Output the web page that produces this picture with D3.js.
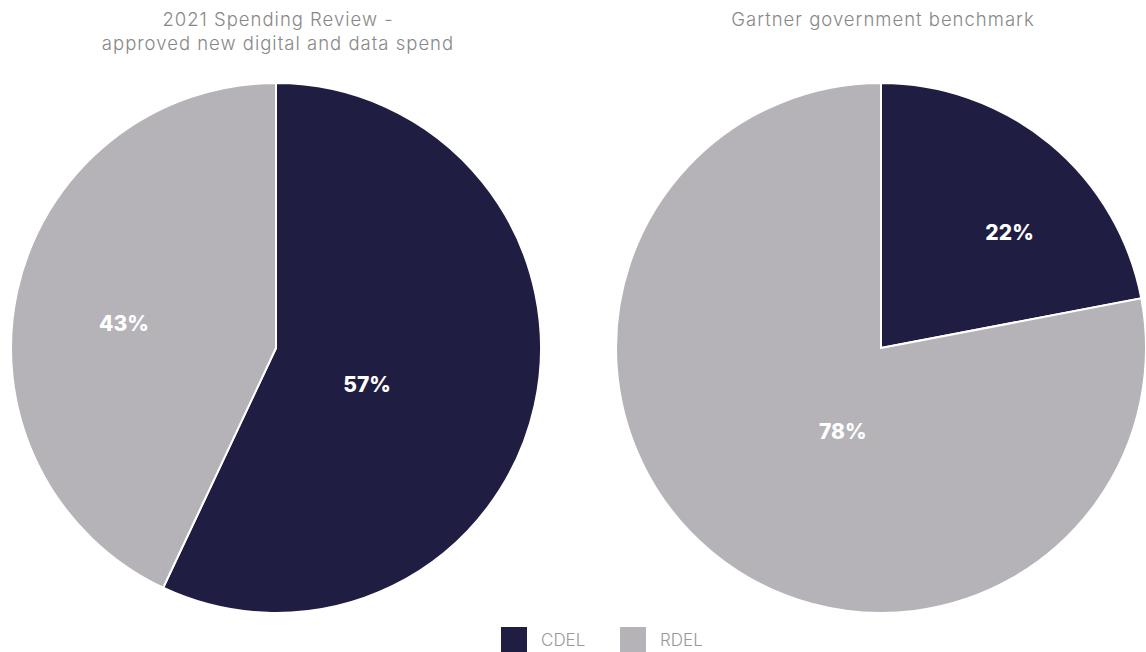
<!DOCTYPE html>
<html>
<head>
<meta charset="utf-8">
<script src="https://cdn.jsdelivr.net/npm/d3@7"></script>
<style>
  body { margin: 0; background: #fff; }
  text { font-family: Inter, 'Noto Sans', sans-serif; }
</style>
</head>
<body>
<svg id="chartSVG"></svg>
<script>
var chartWidth = 1146
var chartHeight = 652
var categories = ['CDEL', 'RDEL']
var categoryColors = ['#1f1d42', '#b5b3b8']
var spendingReviewValues = [57, 43]
var gartnerValues = [22, 78]
var chartTitles = [['2021 Spending Review -', 'approved new digital and data spend'], ['Gartner government benchmark']]

// label placement tweaks (angle shift in degrees, radius in px) per slice
var labelPlacement = [
    [[9, 98], [-3.6, 154]],
    [[8.4, 173], [-15, 92]]
]

var pieRadius = 265
var pieCenters = [[276, 348], [881, 348]]

var svg = d3.select('#chartSVG')
    .attr('width', chartWidth)
    .attr('height', chartHeight)

var colorScale = d3.scaleOrdinal().domain(categories).range(categoryColors)
var pie = d3.pie().sort(null).value(function (d) { return d.value })
var arc = d3.arc().innerRadius(0).outerRadius(pieRadius)

var datasets = [spendingReviewValues, gartnerValues]

datasets.forEach(function (values, k) {
    var rows = categories.map(function (c, i) { return { cat: c, value: values[i] } })
    var layer = svg.append('g')
        .attr('transform', 'translate(' + pieCenters[k][0] + ', ' + pieCenters[k][1] + ')')
    var arcs = pie(rows)
    layer.selectAll('path')
        .data(arcs)
        .enter()
        .append('path')
        .attr('d', arc)
        .attr('fill', function (d) { return colorScale(d.data.cat) })
        .attr('stroke', '#fff')
        .attr('stroke-width', 2)
    layer.selectAll('.pieLabel')
        .data(arcs)
        .enter()
        .append('text')
        .attr('class', 'pieLabel')
        .attr('transform', function (d, i) {
            var mid = (d.startAngle + d.endAngle) / 2 + labelPlacement[k][i][0] * Math.PI / 180
            var r = labelPlacement[k][i][1]
            return 'translate(' + (Math.sin(mid) * r) + ', ' + (-Math.cos(mid) * r) + ')'
        })
        .attr('text-anchor', 'middle')
        .attr('dy', '0.36em')
        .attr('fill', '#fff')
        .style('font-size', '21px')
        .style('font-weight', 800)
        .text(function (d) { return d.data.value + '%' })

    var title = svg.append('text')
        .attr('x', pieCenters[k][0] + 2)
        .attr('y', 26)
        .attr('text-anchor', 'middle')
        .attr('fill', '#888')
        .style('font-size', '18.5px')
        .style('font-weight', 300)
        .style('letter-spacing', '1px')
    chartTitles[k].forEach(function (line, j) {
        title.append('tspan')
            .attr('x', pieCenters[k][0] + 2)
            .attr('dy', j === 0 ? 0 : 24)
            .text(line)
    })
})

// legend
var legend = svg.append('g').attr('transform', 'translate(501, 627)')
var legendItems = legend.selectAll('g')
    .data(categories)
    .enter()
    .append('g')
    .attr('transform', function (d, i) { return 'translate(' + (i * 119) + ', 0)' })
legendItems.append('rect')
    .attr('width', 26)
    .attr('height', 25)
    .attr('fill', function (d) { return colorScale(d) })
legendItems.append('text')
    .attr('x', 40)
    .attr('y', 19)
    .attr('fill', '#999')
    .style('font-size', '17px')
    .style('font-weight', 300)
    .text(function (d) { return d })
</script>
</body>
</html>
